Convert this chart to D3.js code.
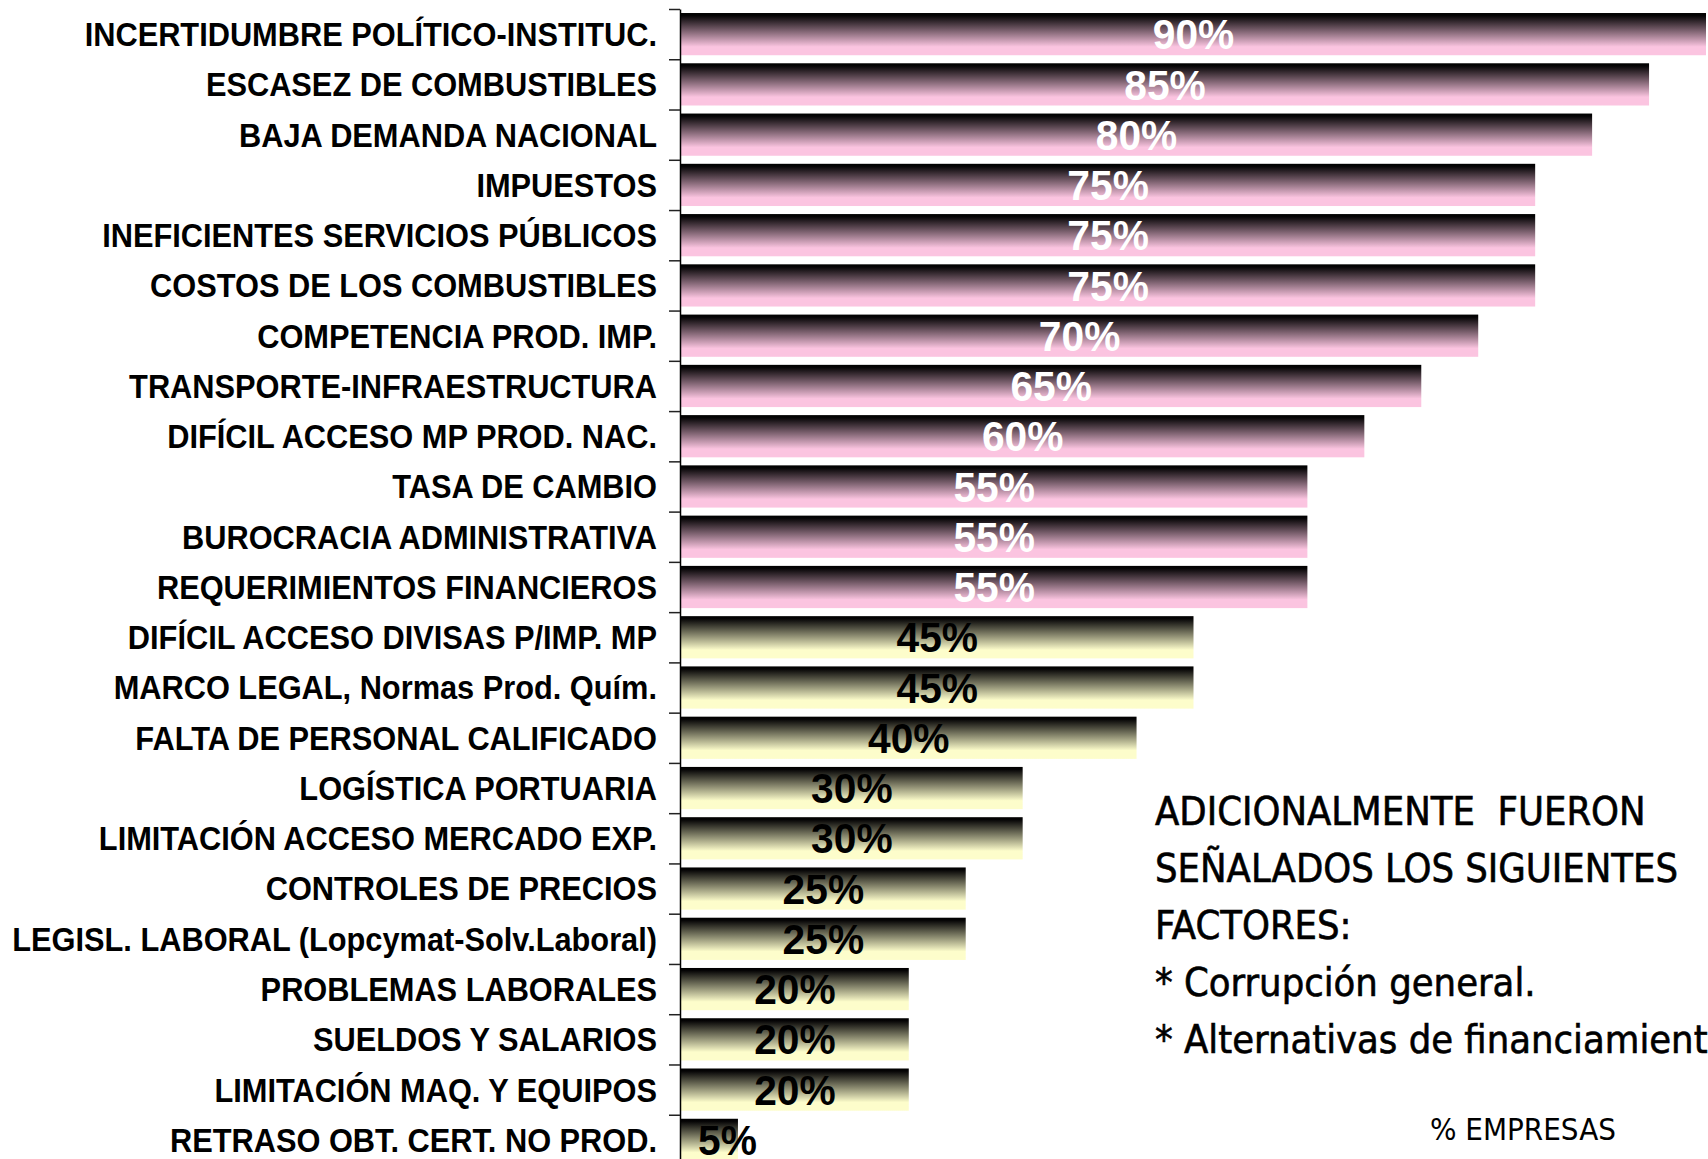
<!DOCTYPE html>
<html>
<head>
<meta charset="utf-8">
<script src="https://cdn.jsdelivr.net/npm/d3@7"></script>
<style>
  html, body { margin: 0; padding: 0; background: #fff; }
  svg { display: block; }
</style>
</head>
<body>
<div id="chart"></div>
<script>
const categories = [
  "INCERTIDUMBRE POLÍTICO-INSTITUC.",
  "ESCASEZ DE COMBUSTIBLES",
  "BAJA DEMANDA NACIONAL",
  "IMPUESTOS",
  "INEFICIENTES SERVICIOS PÚBLICOS",
  "COSTOS DE LOS COMBUSTIBLES",
  "COMPETENCIA PROD. IMP.",
  "TRANSPORTE-INFRAESTRUCTURA",
  "DIFÍCIL ACCESO MP PROD. NAC.",
  "TASA DE CAMBIO",
  "BUROCRACIA ADMINISTRATIVA",
  "REQUERIMIENTOS FINANCIEROS",
  "DIFÍCIL ACCESO DIVISAS P/IMP. MP",
  "MARCO LEGAL, Normas Prod. Quím.",
  "FALTA DE PERSONAL CALIFICADO",
  "LOGÍSTICA PORTUARIA",
  "LIMITACIÓN ACCESO MERCADO EXP.",
  "CONTROLES DE PRECIOS",
  "LEGISL. LABORAL (Lopcymat-Solv.Laboral)",
  "PROBLEMAS LABORALES",
  "SUELDOS Y SALARIOS",
  "LIMITACIÓN MAQ. Y EQUIPOS",
  "RETRASO OBT. CERT. NO PROD."
];
const values = [90, 85, 80, 75, 75, 75, 70, 65, 60, 55, 55, 55, 45, 45, 40, 30, 30, 25, 25, 20, 20, 20, 5];
const groups = ["pink","pink","pink","pink","pink","pink","pink","pink","pink","pink","pink","pink",
  "yellow","yellow","yellow","yellow","yellow","yellow","yellow","yellow","yellow","yellow","yellow"];
const noteLines = [
  "ADICIONALMENTE  FUERON",
  "SEÑALADOS LOS SIGUIENTES",
  "FACTORES:",
  "* Corrupción general.",
  "* Alternativas de financiamiento."
];
const axisTitle = "% EMPRESAS";

const W = 1708, H = 1159;
const svg = d3.select("#chart").append("svg").attr("width", W).attr("height", H);

const defs = svg.append("defs");
const gradColors = { pink: "#fbc4e0", yellow: "#fdfdcb" };
Object.entries(gradColors).forEach(([k, c]) => {
  const g = defs.append("linearGradient").attr("id", "g-" + k)
    .attr("x1", 0).attr("y1", 0).attr("x2", 0).attr("y2", 1);
  g.append("stop").attr("offset", "0").attr("stop-color", "#000");
  g.append("stop").attr("offset", "0.06").attr("stop-color", "#050405");
  g.append("stop").attr("offset", "0.8").attr("stop-color", c);
  g.append("stop").attr("offset", "1").attr("stop-color", c);
});

const x = d3.scaleLinear().domain([0, 90]).range([681, 1706]);
const y = d3.scaleBand().domain(categories).range([9, 1165]).paddingInner(0.16).paddingOuter(0.08);
const yb = d3.scaleLinear().domain([0, categories.length]).range([9, 1165]);

const data = categories.map((c, i) => ({ cat: c, v: values[i], grp: groups[i] }));

// bars
svg.append("g").selectAll("rect").data(data).join("rect")
  .attr("x", x(0))
  .attr("y", d => y(d.cat))
  .attr("width", d => x(d.v) - x(0))
  .attr("height", y.bandwidth())
  .attr("fill", d => "url(#g-" + d.grp + ")");

// axis with boundary ticks
const axis = svg.append("g").attr("transform", `translate(${x(0) - 1},0)`)
  .call(d3.axisLeft(yb).tickValues(d3.range(categories.length + 1)).tickFormat("").tickSize(11).tickSizeOuter(0));
axis.select(".domain").attr("stroke", "#000").attr("stroke-width", 1.5);
axis.selectAll(".tick line").attr("stroke", "#222").attr("stroke-width", 1.5);

// category labels
svg.append("g").selectAll("text").data(data).join("text")
  .attr("transform", d => `translate(${x(0) - 24},${y(d.cat) + y.bandwidth() / 2}) scale(0.905,1)`)
  .attr("dy", "0.35em")
  .attr("text-anchor", "end")
  .attr("font-family", "'Liberation Sans', Arial, sans-serif")
  .attr("font-weight", "bold")
  .attr("font-size", 34)
  .attr("fill", "#000")
  .text(d => d.cat);

// value labels
const vl = svg.append("g").selectAll("text").data(data).join("text")
  .attr("dy", "0.36em")
  .attr("text-anchor", "middle")
  .attr("font-family", "'Liberation Sans', Arial, sans-serif")
  .attr("font-weight", "bold")
  .attr("font-size", 42)
  .attr("fill", d => d.grp === "pink" ? "#fff" : "#000")
  .text(d => d.v + "%");
vl.each(function(d) {
  const w = this.getComputedTextLength() * 0.97;
  const cx = Math.max((x(0) + x(d.v)) / 2, x(0) + 17 + w / 2);
  d3.select(this).attr("transform", `translate(${cx},${y(d.cat) + y.bandwidth() / 2}) scale(0.97,1)`);
});

// note
const note = svg.append("text")
  .attr("font-family", "'DejaVu Sans Condensed', 'DejaVu Sans', sans-serif")
  .attr("font-stretch", "condensed")
  .attr("font-size", 39.5)
  .attr("fill", "#000")
  .attr("stroke", "#000")
  .attr("stroke-width", 0.6)
  .style("white-space", "pre");
noteLines.forEach((t, i) => {
  note.append("tspan").attr("x", 1155).attr("y", 825 + i * 57).text(t);
});

svg.append("text")
  .attr("x", 1430).attr("y", 1140)
  .attr("font-family", "'DejaVu Sans Condensed', 'DejaVu Sans', sans-serif")
  .attr("font-stretch", "condensed")
  .attr("font-size", 31)
  .attr("fill", "#000")
  .text(axisTitle);
</script>
</body>
</html>
